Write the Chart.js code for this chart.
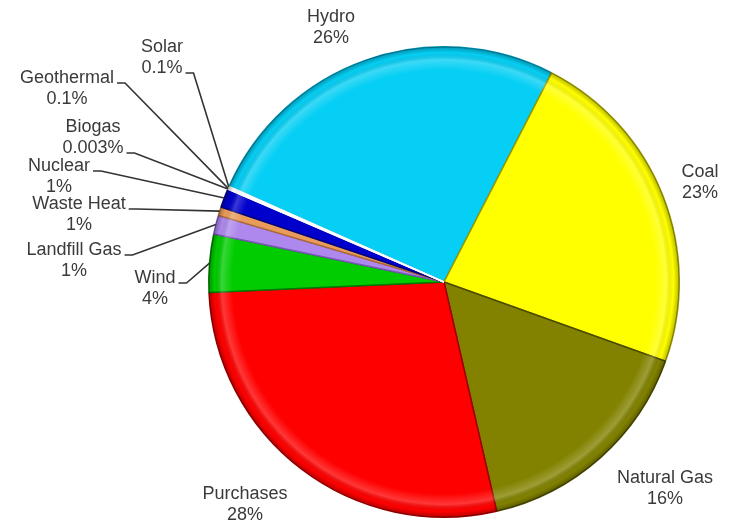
<!DOCTYPE html>
<html><head><meta charset="utf-8">
<script src="https://cdn.jsdelivr.net/npm/chart.js@4/dist/chart.umd.min.js"></script>
<style>html,body{margin:0;padding:0;background:#fff}#wrap{width:734px;height:525px}</style>
</head><body><div id="wrap"><canvas id="c" width="734" height="525"></canvas></div>
<script>
// ---- data ----
const categories = ['Hydro','Coal','Natural Gas','Purchases','Wind','Landfill Gas','Waste Heat','Nuclear','Biogas','Geothermal','Solar'];
// slice sizes (small ones estimated from their width)
const shares = [26, 23, 16, 28, 4, 1.3, 0.6, 1.3, 0.003, 0.1, 0.1];
// percentages as printed on the chart
const shareLabels = ['26%','23%','16%','28%','4%','1%','1%','1%','0.003%','0.1%','0.1%'];

// ---- styles / layout ----
const sliceColors = ['#05CFF4','#FFFF00','#828200','#FF0000','#00CC00','#AE88EC','#E99C5A','#0000CC','#F4F4F4','#FFE0E0','#FFFFD0'];
const sliceBorders = ['#0090B0','#9A9A00','#4A4A00','#A00000','#007A00','#7A56B8','#B06A30','#000080','#FFFFFF','#FFFFFF','#FFFFFF'];
// text anchor (center of first line) and which line the leader attaches to (-1 = none)
const labelLayout = {
  'Hydro':        {x:331, y:17,  leader:-1},
  'Coal':         {x:700, y:172, leader:-1},
  'Natural Gas':  {x:665, y:478, leader:-1},
  'Purchases':    {x:245, y:494, leader:-1},
  'Wind':         {x:155, y:278, leader:0},
  'Landfill Gas': {x:74,  y:250, leader:0},
  'Waste Heat':   {x:79,  y:204, leader:0},
  'Nuclear':      {x:59,  y:166, leader:0},
  'Biogas':       {x:93,  y:127, leader:1},
  'Geothermal':   {x:67,  y:78,  leader:0},
  'Solar':        {x:162, y:47,  leader:1}
};
const LINE_H = 21;

const bevelPlugin = {
  id: 'bevel',
  afterDatasetsDraw(chart) {
    const meta = chart.getDatasetMeta(0);
    const a0 = meta.data[0];
    if (!a0) return;
    const {x, y, outerRadius} = a0.getProps(['x','y','outerRadius'], true);
    const ctx = chart.ctx;
    ctx.save();
    const g = ctx.createRadialGradient(x, y, 0, x, y, outerRadius);
    g.addColorStop(0, 'rgba(255,255,255,0)');
    g.addColorStop(0.90, 'rgba(255,255,255,0)');
    g.addColorStop(0.945, 'rgba(255,255,255,0.22)');
    g.addColorStop(0.975, 'rgba(0,0,0,0)');
    g.addColorStop(1, 'rgba(0,0,0,0.28)');
    ctx.beginPath();
    ctx.arc(x, y, outerRadius, 0, Math.PI * 2);
    ctx.fillStyle = g;
    ctx.fill();
    ctx.restore();
  }
};

const labelPlugin = {
  id: 'calloutLabels',
  afterDraw(chart) {
    const ctx = chart.ctx;
    const meta = chart.getDatasetMeta(0);
    ctx.save();
    ctx.font = '18px "Liberation Sans", Arial, sans-serif';
    ctx.fillStyle = '#3a3a3a';
    ctx.strokeStyle = '#333333';
    ctx.lineWidth = 1.6;
    ctx.textAlign = 'center';
    ctx.textBaseline = 'middle';
    categories.forEach((name, i) => {
      const L = labelLayout[name];
      const lines = [name, shareLabels[i]];
      lines.forEach((t, k) => ctx.fillText(t, L.x, L.y + k * LINE_H));
      if (L.leader >= 0) {
        const arc = meta.data[i];
        const p = arc.getProps(['x','y','startAngle','endAngle','outerRadius'], true);
        const mid = (p.startAngle + p.endAngle) / 2;
        const ex = p.x + Math.cos(mid) * p.outerRadius;
        const ey = p.y + Math.sin(mid) * p.outerRadius;
        const w = ctx.measureText(lines[L.leader]).width;
        const sx = L.x + w / 2 + 3;
        const sy = L.y + L.leader * LINE_H + 5;
        ctx.beginPath();
        ctx.moveTo(sx, sy);
        ctx.lineTo(sx + 8, sy);
        ctx.lineTo(ex, ey);
        ctx.stroke();
      }
    });
    ctx.restore();
  }
};

new Chart(document.getElementById('c'), {
  type: 'pie',
  data: {
    labels: categories,
    datasets: [{
      data: shares,
      backgroundColor: sliceColors,
      borderColor: sliceBorders,
      borderWidth: 1.5
    }]
  },
  options: {
    responsive: false,
    animation: false,
    rotation: -66,
    layout: {padding: {top: 46, bottom: 7, left: 208, right: 54}},
    plugins: {legend: {display: false}, tooltip: {enabled: false}}
  },
  plugins: [bevelPlugin, labelPlugin]
});
</script>
</body></html>
